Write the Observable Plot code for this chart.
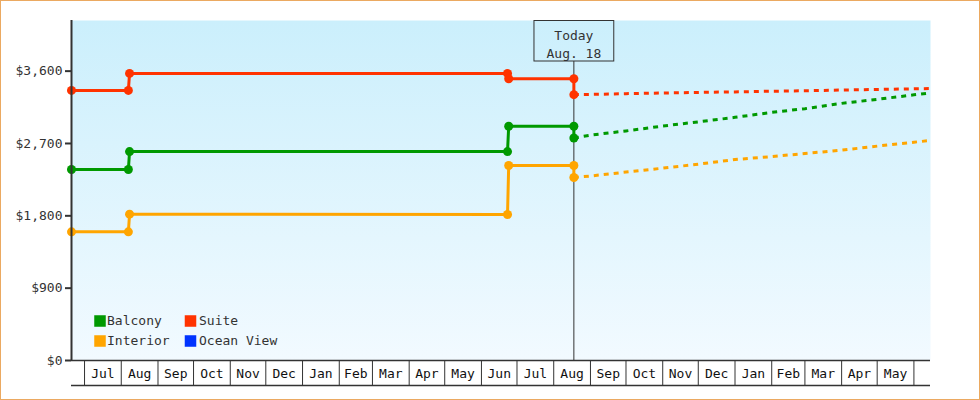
<!DOCTYPE html>
<html><head><meta charset="utf-8">
<script src="https://cdn.jsdelivr.net/npm/d3@7"></script>
<script src="https://cdn.jsdelivr.net/npm/@observablehq/plot@0.6"></script>
<style>
html,body{margin:0;padding:0;background:#fff;}
#chart{position:relative;width:980px;height:400px;outline:1px solid #eba961;outline-offset:-1px;}
#chart svg{display:block;}
</style></head><body><div id="chart"></div>
<script>
const D = (y, m, d) => new Date(Date.UTC(y, m - 1, d));

// Scale extents and ticks
const xStart = D(2017, 6, 20);
const xEnd = D(2019, 6, 15);
const today = D(2018, 8, 18);
const todayLabel = "Today\nAug. 18";
const yMax = 4230;
const yTicks = [0, 900, 1800, 2700, 3600];

// Series
const seriesNames = ["Balcony", "Suite", "Interior", "Ocean View"];
const seriesColors = ["#009900", "#ff3300", "#ffa500", "#0033ff"];

// Price history (date of change, price)
const historyDates = [D(2017,6,20), D(2017,8,7), D(2017,8,8), D(2018,6,23), D(2018,6,24), D(2018,8,18), D(2018,8,18)];
const balconyHistory = [2376, 2376, 2599, 2599, 2914, 2914, 2768];
const suiteHistory   = [3360, 3360, 3572, 3572, 3506, 3506, 3307];
const interiorHistory= [1601, 1601, 1821, 1817, 2426, 2426, 2277];

// Forecast
const forecastDates = [D(2018,8,18), D(2018,9,1), D(2018,10,1), D(2018,11,1), D(2018,12,1), D(2019,1,1), D(2019,2,1), D(2019,3,1), D(2019,4,1), D(2019,5,1), D(2019,6,1), D(2019,6,15)];
const balconyForecast  = [2768, 2804, 2856, 2917, 2969, 3025, 3087, 3133, 3199, 3249, 3305, 3329];
const suiteForecast    = [3307, 3310, 3320, 3328, 3335, 3342, 3350, 3356, 3365, 3372, 3380, 3383];
const interiorForecast = [2277, 2295, 2344, 2393, 2442, 2500, 2537, 2575, 2617, 2667, 2716, 2737];

const histories = {Balcony: balconyHistory, Suite: suiteHistory, Interior: interiorHistory};
const forecasts = {Balcony: balconyForecast, Suite: suiteForecast, Interior: interiorForecast};
const colorOf = Object.fromEntries(seriesNames.map((n, i) => [n, seriesColors[i]]));

const history = Object.entries(histories).flatMap(([s, vals]) => vals.map((v, i) => ({series: s, date: historyDates[i], price: v})));
const forecast = Object.entries(forecasts).flatMap(([s, vals]) => vals.map((v, i) => ({series: s, date: forecastDates[i], price: v})));

const monthStarts = d3.utcMonth.range(d3.utcMonth.ceil(xStart), xEnd);
const monthMids = monthStarts.slice(0, -1).map((m, i) => new Date((+m + +monthStarts[i + 1]) / 2));

const ink = "#333333";
const fontFamily = "'DejaVu Sans Mono', monospace";
const marginTop = 20;
const todayBoxHeight = 41;

const legendMarks = seriesNames.flatMap((name, i) => {
  const col = i % 2, row = Math.floor(i / 2);
  return [
    Plot.dot([name], {frameAnchor: "bottom-left", symbol: "square", r: 6.5, fill: seriesColors[i], stroke: null, dx: 28.5 + col * 90.5, dy: -39.5 + row * 20}),
    Plot.text([name], {frameAnchor: "bottom-left", lineAnchor: "middle", text: d => d, textAnchor: "start", fill: ink, fontSize: 13, dx: 35.5 + col * 92, dy: -39.5 + row * 20})
  ];
});

const chart = Plot.plot({
  width: 980,
  height: 400,
  marginLeft: 71,
  marginRight: 50,
  marginTop,
  marginBottom: 40,
  style: {fontFamily, fontSize: "13px", color: ink, background: "transparent", overflow: "visible"},
  x: {type: "utc", domain: [xStart, xEnd]},
  y: {domain: [0, yMax]},
  marks: [
    Plot.frame({fill: "url(#bgGrad)", stroke: null}),
    Plot.ruleX([today], {stroke: ink, strokeWidth: 1, insetTop: todayBoxHeight}),
    Plot.text([today], {x: d => d, text: () => todayLabel, frameAnchor: "top", lineAnchor: "top", dy: 7, lineHeight: 1.38, fill: ink, fontSize: 13}),
    Plot.line(history, {x: "date", y: "price", z: "series", stroke: d => colorOf[d.series], strokeWidth: 3}),
    Plot.line(forecast, {x: "date", y: "price", z: "series", stroke: d => colorOf[d.series], strokeWidth: 3, strokeDasharray: "5,5", strokeLinecap: "butt"}),
    Plot.dot(history, {x: "date", y: "price", fill: d => colorOf[d.series], r: 4.5, stroke: null}),
    Plot.ruleX([xStart], {stroke: ink, strokeWidth: 2}),
    Plot.ruleY([0], {stroke: ink, strokeWidth: 1.5}),
    Plot.ruleY([0], {stroke: ink, strokeWidth: 1.5, dy: 25}),
    Plot.axisY({ticks: yTicks, tickFormat: d3.format("$,.0f"), tickSize: 6, tickPadding: 3, stroke: ink, strokeWidth: 2, fill: ink, fontSize: 13, label: null}),
    Plot.axisX({ticks: monthStarts, tickSize: 25, tickFormat: () => "", stroke: ink, strokeWidth: 1, label: null}),
    Plot.text(monthMids, {x: d => d, text: d3.utcFormat("%b"), frameAnchor: "bottom", lineAnchor: "middle", dy: 13, fill: "#111", fontSize: 13}),
    ...legendMarks
  ]
});

document.getElementById("chart").appendChild(chart);

// gradient for the plotting area background
const svg = d3.select(chart);
const defs = svg.insert("defs", ":first-child");
const grad = defs.append("linearGradient").attr("id", "bgGrad").attr("x1", 0).attr("y1", 0).attr("x2", 0).attr("y2", 1);
grad.append("stop").attr("offset", "0%").attr("stop-color", "#cbeffc");
grad.append("stop").attr("offset", "100%").attr("stop-color", "#f2faff");

// box around the "Today" label: width from the label, height from the rule's top inset
svg.selectAll("text").filter(function () { return this.textContent.startsWith("Today"); }).each(function () {
  const b = this.getBBox();
  const m = this.getCTM();
  const left = b.x + m.e - 12.5;
  svg.append("rect")
    .attr("x", left).attr("y", marginTop + 0.5)
    .attr("width", b.width + 25).attr("height", todayBoxHeight - 0.5)
    .attr("fill", "none").attr("stroke", ink).attr("stroke-width", 1);
});
</script></body></html>
